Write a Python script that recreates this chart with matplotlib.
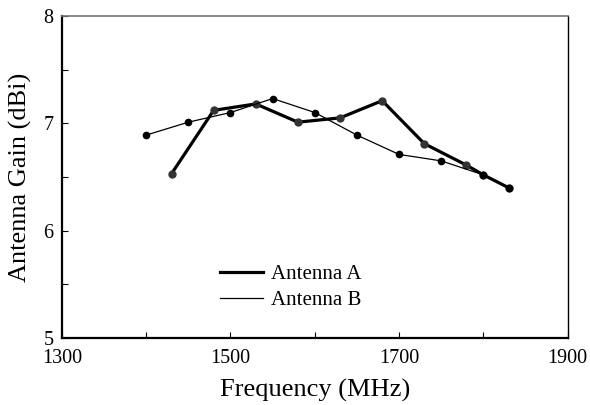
import numpy as np
import matplotlib.pyplot as plt
from matplotlib.ticker import MultipleLocator

plt.rcParams['font.family'] = ['Liberation Serif', 'DejaVu Serif']

# данные
freq_a = [1430, 1480, 1530, 1580, 1630, 1680, 1730, 1780, 1800, 1830]
gain_a = [6.53, 7.12, 7.18, 7.01, 7.05, 7.21, 6.81, 6.61, 6.52, 6.40]

freq_b = [1400, 1450, 1500, 1550, 1600, 1650, 1700, 1750, 1800, 1830]
gain_b = [6.89, 7.01, 7.10, 7.23, 7.10, 6.89, 6.71, 6.65, 6.52, 6.40]

x_ticks = [1300, 1500, 1700, 1900]
y_ticks = [5, 6, 7, 8]

fig = plt.figure(figsize=(5.9, 4.05), dpi=100)
ax = fig.add_axes([0.105, 0.165, 0.857, 0.796])

ax.plot(freq_a, gain_a, color='black', lw=2.3, marker='o', ms=5,
        mfc='#333333', mec='#333333', label='Antenna A')
ax.plot(freq_b, gain_b, color='black', lw=0.9, marker='o', ms=4.5,
        mfc='black', mec='black', label='Antenna B')

ax.set_xlim(1300, 1900)
ax.set_ylim(5, 8)
ax.set_xticks(x_ticks)
ax.set_yticks(y_ticks)
ax.xaxis.set_minor_locator(MultipleLocator(100))
ax.yaxis.set_minor_locator(MultipleLocator(0.5))
ax.tick_params(which='both', direction='in', labelsize=14.5, length=4, width=0.8)
ax.tick_params(axis='x', pad=8)
ax.tick_params(axis='y', pad=6)

for s in ['left', 'bottom']:
    ax.spines[s].set_linewidth(1.6)
ax.spines['right'].set_linewidth(1.0)
ax.spines['top'].set_linewidth(1.2)
ax.spines['top'].set_color('#777777')

ax.set_xlabel('Frequency (MHz)', fontsize=19, labelpad=8)
ax.set_ylabel('Antenna Gain (dBi)', fontsize=19, labelpad=8)

ax.legend(loc='upper left', bbox_to_anchor=(0.312, 0.228), frameon=False,
          fontsize=15, handlelength=2.1, handletextpad=0.35, labelspacing=0.3,
          borderpad=0, borderaxespad=0)
leg = ax.get_legend()
for h in leg.get_lines():
    h.set_marker('')

plt.savefig('out.png', dpi=100)
